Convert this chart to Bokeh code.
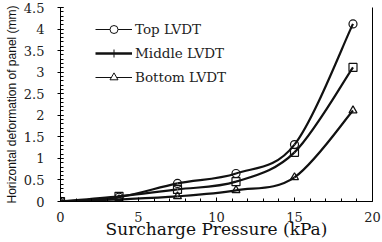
from bokeh.plotting import figure
from bokeh.models import (Range1d, SingleIntervalTicker, FixedTicker, LinearAxis, Legend,
                          LegendItem, ColumnDataSource)
from bokeh.embed import file_html
from bokeh.resources import INLINE

pressure = [0, 3.75, 7.5, 11.25, 15, 18.75]
top_lvdt = [0, 0.10, 0.42, 0.65, 1.32, 4.12]
middle_lvdt = [0, 0.12, 0.28, 0.46, 1.14, 3.11]
bottom_lvdt = [0, 0.05, 0.12, 0.26, 0.56, 2.11]
series_names = ["Top LVDT", "Middle LVDT", "Bottom LVDT"]
x_ticks = [0, 5, 10, 15, 20]
y_ticks = [0, 0.5, 1, 1.5, 2, 2.5, 3, 3.5, 4, 4.5]

SERIF = "DejaVu Serif"

p = figure(width=382, height=242, output_backend="svg", toolbar_location=None,
           x_range=Range1d(0, 20), y_range=Range1d(0, 4.5),
           min_border_left=60, min_border_right=10, min_border_top=7, min_border_bottom=41)
p.outline_line_color = None
p.xgrid.visible = False
p.ygrid.visible = False
p.background_fill_color = "white"


def smooth_segments(xs, ys):
    """Bezier control points (Catmull-Rom style) through the data points."""
    n = len(xs)
    x0, y0, x1, y1, cx0, cy0, cx1, cy1 = [], [], [], [], [], [], [], []
    for i in range(n - 1):
        ip = max(i - 1, 0)
        inx = min(i + 2, n - 1)
        x0.append(xs[i]); y0.append(ys[i])
        x1.append(xs[i + 1]); y1.append(ys[i + 1])
        cx0.append(xs[i] + (xs[i + 1] - xs[ip]) / 6)
        cy0.append(ys[i] + (ys[i + 1] - ys[ip]) / 6)
        cx1.append(xs[i + 1] - (xs[inx] - xs[i]) / 6)
        cy1.append(ys[i + 1] - (ys[inx] - ys[i]) / 6)
    return dict(x0=x0, y0=y0, x1=x1, y1=y1, cx0=cx0, cy0=cy0, cx1=cx1, cy1=cy1)


series = [top_lvdt, middle_lvdt, bottom_lvdt]
markers = ["circle", "square", "triangle"]
for ys, mk in zip(series, markers):
    src = ColumnDataSource(smooth_segments(pressure, ys))
    p.bezier(x0="x0", y0="y0", x1="x1", y1="y1", cx0="cx0", cy0="cy0", cx1="cx1", cy1="cy1",
             source=src, line_color="#111111", line_width=2.2)
    p.scatter(pressure, ys, marker=mk, size=8, line_color="#111111", line_width=1.2,
              fill_alpha=0)

# legend (off-screen dummy renderers carry the legend styling)
leg_styles = [("circle", 1.0, 6), ("cross", 2.6, 7), ("triangle", 1.0, 7)]
items = []
for name, (mk, lw, sz) in zip(series_names, leg_styles):
    r1 = p.line([-10, -9], [-10, -10], line_color="#111111", line_width=lw)
    r2 = p.scatter([-10], [-10], marker=mk, size=sz, line_color="#111111",
                   fill_color="white", line_width=1)
    items.append(LegendItem(label=name, renderers=[r1, r2]))
legend = Legend(items=items, location=(35, 114), orientation="vertical",
                glyph_width=37, glyph_height=20, spacing=4, label_standoff=3,
                padding=0, margin=0, border_line_color=None, background_fill_alpha=0,
                label_text_font=SERIF, label_text_font_size="13.5px", label_text_color="#222222")
p.add_layout(legend, "center")

# axes
xa = p.xaxis[0]
xa.ticker = SingleIntervalTicker(interval=5, num_minor_ticks=5)
xa.major_tick_in = 4
xa.major_tick_out = 0
xa.minor_tick_in = 3
xa.minor_tick_out = 0
xa.axis_line_color = "black"
xa.major_label_text_font = SERIF
xa.major_label_text_font_size = "13px"
xa.major_label_text_color = "#222222"
xa.major_label_standoff = 10
xa.major_label_overrides = {v: str(v) for v in x_ticks}
xa.axis_label = "Surcharge Pressure (kPa)"
xa.axis_label_text_font = SERIF
xa.axis_label_text_font_size = "17px"
xa.axis_label_text_font_style = "normal"
xa.axis_label_text_color = "#111111"
xa.axis_label_standoff = -6

ya = p.yaxis[0]
ya.ticker = SingleIntervalTicker(interval=0.5, num_minor_ticks=5)
ya.major_tick_in = 3
ya.major_tick_out = 3
ya.minor_tick_in = 3
ya.minor_tick_out = 0
ya.axis_line_color = "black"
ya.major_label_text_font = SERIF
ya.major_label_text_font_size = "13px"
ya.major_label_text_color = "#222222"
ya.major_label_standoff = 13
ya.major_label_overrides = {v: ("%g" % v) for v in y_ticks}
ya.axis_label = "Horizontal deformation of panel (mm)"
ya.axis_label_text_font = "Liberation Sans"
ya.axis_label_text_font_size = "12px"
ya.axis_label_text_font_style = "normal"
ya.axis_label_text_color = "#111111"
ya.axis_label_standoff = 2

right = LinearAxis(ticker=FixedTicker(ticks=[]), major_tick_line_color=None,
                   minor_tick_line_color=None, axis_line_color="black")
p.add_layout(right, "right")

open("out.html", "w").write(file_html(p, INLINE))
